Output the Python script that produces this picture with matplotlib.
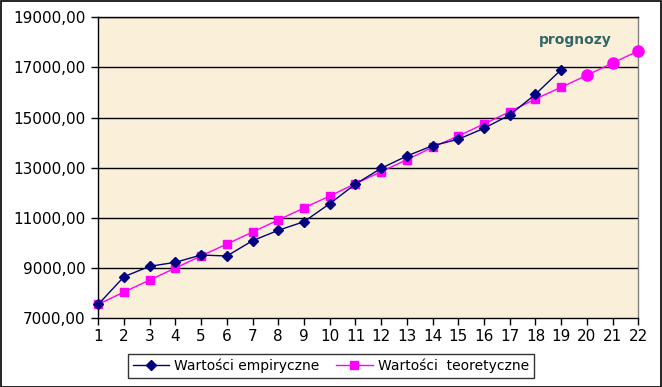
import matplotlib
matplotlib.use("Agg")
import matplotlib.pyplot as plt
from matplotlib.patches import Rectangle
from matplotlib.ticker import FixedLocator

periods = list(range(1, 23))
empirical_t = list(range(1, 20))
empirical = [7558, 8659, 9073, 9233, 9524, 9484, 10094, 10509, 10852, 11569,
             12350, 12981, 13471, 13882, 14137, 14576, 15106, 15931, 16912]
theoretical_t = list(range(1, 20))
theoretical = [7558, 8049, 8527, 9006, 9490, 9960, 10440, 10920, 11400, 11876,
               12368, 12845, 13324, 13818, 14269, 14747, 15238, 15744, 16211]
forecast_t = [19, 20, 21, 22]
forecast = [16211, 16689, 17179, 17658]
y_ticks = [7000, 9000, 11000, 13000, 15000, 17000, 19000]
y_labels = ["7000,00", "9000,00", "11000,00", "13000,00", "15000,00", "17000,00", "19000,00"]
legend_labels = ["Wartości empiryczne", "Wartości  teoretyczne"]
annotation = "prognozy"

W, H = 662, 387
fig = plt.figure(figsize=(W / 100, H / 100), dpi=100)
fig.patch.set_facecolor("white")
left, right, top, bottom = 98.3, 638.3, 17.3, 318.3
ax = fig.add_axes([left / W, 1 - bottom / H, (right - left) / W, (bottom - top) / H])
ax.set_facecolor("#FAF0DA")

ax.set_xlim(1, 22)
ax.set_ylim(7000, 19000)

for y in y_ticks[1:]:
    ax.axhline(y, color="black", lw=1.0, zorder=1)

ax.plot(forecast_t, forecast, color="#FF00FF", lw=1.0, marker="o", ms=8,
        markevery=[1, 2, 3], mec="#FF00FF", mfc="#FF00FF", zorder=3, clip_on=False)
ax.plot(theoretical_t, theoretical, color="#FF00FF", lw=1.0, marker="s", ms=5.8,
        mec="#FF00FF", mfc="#FF00FF", zorder=3, clip_on=False, label=legend_labels[1])
ax.plot(empirical_t, empirical, color="#000080", lw=1.0, marker="D", ms=4.8,
        mec="#000080", mfc="#000080", zorder=4, clip_on=False, label=legend_labels[0])

ax.text(575 / W, 1 - 40 / H, annotation, transform=fig.transFigure, color="#336666",
        fontsize=10, fontweight="bold", ha="center", va="center")

ax.yaxis.set_major_locator(FixedLocator(y_ticks))
ax.set_yticklabels(y_labels)
ax.xaxis.set_major_locator(FixedLocator(periods))
ax.set_xticklabels([str(p) for p in periods])
ax.tick_params(axis="both", direction="out", length=5, width=1, color="black",
               labelsize=11, labelcolor="black")
ax.tick_params(axis="y", pad=4)
ax.tick_params(axis="x", pad=3)

for s in ["left", "bottom", "top"]:
    ax.spines[s].set_color("black")
    ax.spines[s].set_linewidth(1)
ax.spines["right"].set_color("#808080")
ax.spines["right"].set_linewidth(1)

handles, labels = ax.get_legend_handles_labels()
order = [1, 0]
leg = fig.legend([handles[i] for i in order], [labels[i] for i in order],
                 loc="center", bbox_to_anchor=(331 / W, 1 - 366 / H), ncol=2,
                 frameon=True, fancybox=False, edgecolor="black", fontsize=10,
                 handlelength=2.6, columnspacing=1.2, borderpad=0.35,
                 handletextpad=0.4)
leg.get_frame().set_linewidth(1)

fig.patches.append(Rectangle((0.5 / W, 0.5 / H), 1 - 1.5 / W, 1 - 1.5 / H,
                             transform=fig.transFigure, fill=False,
                             edgecolor="black", lw=1.2))

fig.savefig("out.png", dpi=100)
